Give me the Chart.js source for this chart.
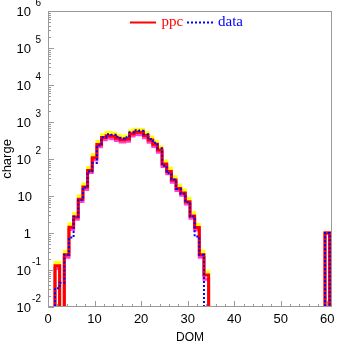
<!DOCTYPE html>
<html>
<head>
<meta charset="UTF-8">
<title>charge per DOM</title>
<script src="https://cdn.jsdelivr.net/npm/chart.js@4"></script>
<style>
  html, body { margin: 0; padding: 0; background: #fff; }
</style>
</head>
<body>
<canvas id="myChart" width="337" height="344"></canvas>
<script>
// bin centres (DOM number), one value per bin; 0 means empty bin
const domBins = [0, 1, 2, 3, 4, 5, 6, 7, 8, 9, 10, 11, 12, 13, 14, 15, 16, 17, 18, 19,
  20, 21, 22, 23, 24, 25, 26, 27, 28, 29, 30, 31, 32, 33, 34, 35, 36, 37, 38, 39,
  40, 41, 42, 43, 44, 45, 46, 47, 48, 49, 50, 51, 52, 53, 54, 55, 56, 57, 58, 59, 60, 61];

const ppc = [1, 0, 0, 0.13, 0, 0.26, 1.43, 2.7, 8.2, 17.5, 49, 108, 245, 380, 425, 410, 363, 330, 345, 480,
  530, 525, 430, 325, 250, 175, 73, 46, 27, 16, 12, 7, 2.9, 1.4, 0.26, 0.073, 0, 0, 0, 0,
  0, 0, 0, 0, 0, 0, 0, 0, 0, 0, 0, 0, 0, 0, 0, 0, 0, 0, 0, 0, 0, 1];

const data = [1, 0, 0, 0.032, 0.045, 0.26, 0.75, 2.8, 7.8, 17, 46, 78, 230, 390, 465, 450, 400, 360, 390, 530,
  600, 580, 470, 345, 275, 195, 66, 41, 28, 15.5, 11.5, 6.8, 2.8, 0.8, 0.26, 0, 0, 0, 0, 0,
  0, 0, 0, 0, 0, 0, 0, 0, 0, 0, 0, 0, 0, 0, 0, 0, 0, 0, 0, 0, 0, 1];

// ppc spread band (upper / lower edge)
const ppcHigh = [1, 0, 0, 0.16, 0, 0.32, 1.75, 3.3, 10, 21, 59, 130, 295, 455, 520, 500, 440, 400, 420, 580,
  640, 630, 520, 395, 300, 210, 88, 56, 33, 19.5, 14.5, 8.5, 3.5, 1.7, 0.32, 0.09, 0, 0, 0, 0,
  0, 0, 0, 0, 0, 0, 0, 0, 0, 0, 0, 0, 0, 0, 0, 0, 0, 0, 0, 0, 0, 1];

const ppcLow = [1, 0, 0, 0.11, 0, 0.22, 1.25, 2.35, 7.1, 15, 43, 94, 213, 330, 370, 355, 315, 287, 300, 418,
  460, 455, 374, 283, 218, 152, 63, 40, 23.5, 14, 10.4, 6.1, 2.5, 1.2, 0.22, 0.056, 0, 0, 0, 0,
  0, 0, 0, 0, 0, 0, 0, 0, 0, 0, 0, 0, 0, 0, 0, 0, 0, 0, 0, 0, 0, 1];

const xTickValues = [0, 10, 20, 30, 40, 50, 60];
const yDecades = [-2, -1, 0, 1, 2, 3, 4, 5, 6];
const X_MIN = 0, X_MAX = 61;

const EMPTY = 1e-4; // below the axis, so empty bins drop out of view

function toSteps(vals) {
  const pts = [];
  for (let i = 0; i < domBins.length; i++) {
    pts.push({ x: domBins[i] - 0.5, y: vals[i] > 0 ? vals[i] : EMPTY });
  }
  pts.push({ x: domBins[domBins.length - 1] + 0.5, y: EMPTY });
  return pts;
}

const AXIS_GREY = '#9a9a9a';

const framePlugin = {
  id: 'frame',
  afterDatasetsDraw(chart) {
    const ctx = chart.ctx, a = chart.chartArea;
    const xs = chart.scales.x, ys = chart.scales.y;
    ctx.save();
    ctx.strokeStyle = AXIS_GREY;
    ctx.lineWidth = 1;
    ctx.strokeRect(a.left + 0.5, a.top + 0.5, a.right - a.left - 1, a.bottom - a.top - 1);

    ctx.beginPath();
    // y ticks, inward on the left
    for (const k of yDecades) {
      const y = Math.round(ys.getPixelForValue(Math.pow(10, k))) + 0.5;
      ctx.moveTo(a.left, y); ctx.lineTo(a.left + 6, y);
      if (k < 6) {
        for (let m = 2; m <= 9; m++) {
          const ym = Math.round(ys.getPixelForValue(m * Math.pow(10, k))) + 0.5;
          ctx.moveTo(a.left, ym); ctx.lineTo(a.left + 3, ym);
        }
      }
    }
    // x ticks, inward on the bottom
    for (let v = X_MIN; v <= X_MAX; v += 2) {
      const x = Math.round(xs.getPixelForValue(v)) + 0.5;
      const len = v % 10 === 0 ? 6 : 3;
      ctx.moveTo(x, a.bottom); ctx.lineTo(x, a.bottom - len);
    }
    ctx.stroke();

    // y tick labels with exponents
    ctx.fillStyle = '#000';
    ctx.textAlign = 'right';
    ctx.textBaseline = 'middle';
    for (const k of yDecades) {
      const y = ys.getPixelForValue(Math.pow(10, k));
      ctx.font = '13px "Liberation Sans", Arial, sans-serif';
      if (k === 0) {
        ctx.fillText('1', 31, y + 1.5);
      } else if (k === 1) {
        ctx.fillText('10', 32, y + 1.5);
      } else {
        ctx.fillText('10', 31, y + 1.5);
        ctx.font = '10px "Liberation Sans", Arial, sans-serif';
        ctx.fillText(String(k), 41, y - 7.5);
      }
    }
    ctx.restore();
  },
  afterDraw(chart) {
    // legend inside the top of the frame
    const ctx = chart.ctx, a = chart.chartArea;
    const cx = (a.left + a.right) / 2;
    const y = a.top + 11.5;
    ctx.save();
    ctx.lineWidth = 2;
    ctx.strokeStyle = '#ff0000';
    ctx.beginPath(); ctx.moveTo(cx - 60, y); ctx.lineTo(cx - 34, y); ctx.stroke();
    ctx.strokeStyle = '#0000ff';
    ctx.setLineDash([2, 2]);
    ctx.beginPath(); ctx.moveTo(cx - 3, y); ctx.lineTo(cx + 25, y); ctx.stroke();
    ctx.setLineDash([]);
    ctx.font = '15px "Liberation Serif", "Times New Roman", serif';
    ctx.textBaseline = 'alphabetic';
    ctx.textAlign = 'left';
    ctx.fillStyle = '#ff0000';
    ctx.fillText('ppc', cx - 28.5, y + 3.5);
    ctx.fillStyle = '#0000ff';
    ctx.fillText('data', cx + 28, y + 3.5);
    ctx.restore();
  }
};

new Chart(document.getElementById('myChart'), {
  type: 'line',
  data: {
    datasets: [
      { label: 'data', data: toSteps(data), borderColor: '#0000ff', borderWidth: 2, borderDash: [2, 2] },
      { label: 'ppc', data: toSteps(ppc), borderColor: '#ff0000', borderWidth: 3 },
      { label: 'ppc low', data: toSteps(ppcLow), borderColor: '#ff40d0', borderWidth: 3 },
      { label: 'ppc high', data: toSteps(ppcHigh), borderColor: '#ffff00', borderWidth: 3 }
    ]
  },
  options: {
    responsive: false,
    animation: false,
    devicePixelRatio: 1,
    layout: { padding: { top: 11, right: 5, left: 0, bottom: 0 } },
    elements: {
      point: { radius: 0 },
      line: { stepped: 'after', tension: 0, fill: false, borderJoinStyle: 'miter', borderCapStyle: 'butt' }
    },
    datasets: { line: { clip: 0 } },
    plugins: { legend: { display: false }, tooltip: { enabled: false } },
    scales: {
      x: {
        type: 'linear',
        min: X_MIN,
        max: X_MAX,
        afterBuildTicks(s) { s.ticks = xTickValues.map(v => ({ value: v })); },
        // fixed height, and no extra room for the label overhang at the ends
        afterFit(s) { s.height = 37; s.paddingLeft = 0; s.paddingRight = 0; },
        grid: { display: false, drawTicks: false },
        border: { display: false },
        ticks: {
          autoSkip: false, maxRotation: 0, padding: 5, color: '#000',
          font: { family: '"Liberation Sans", Arial, sans-serif', size: 13 }
        },
        title: {
          display: true, text: 'DOM', color: '#000', padding: { top: 0, bottom: 0 },
          font: { family: '"Liberation Sans", Arial, sans-serif', size: 12, lineHeight: 1 }
        }
      },
      y: {
        type: 'logarithmic',
        min: 0.01,
        max: 1e6,
        afterFit(s) { s.width = 48; s.paddingTop = 0; s.paddingBottom = 0; },
        grid: { display: false, drawTicks: false },
        border: { display: false },
        ticks: { display: false },
        title: {
          display: true, text: 'charge', color: '#000', padding: { top: 1, bottom: 0 },
          font: { family: '"Liberation Sans", Arial, sans-serif', size: 13, lineHeight: 1 }
        }
      }
    }
  },
  plugins: [framePlugin]
});
</script>
</body>
</html>
